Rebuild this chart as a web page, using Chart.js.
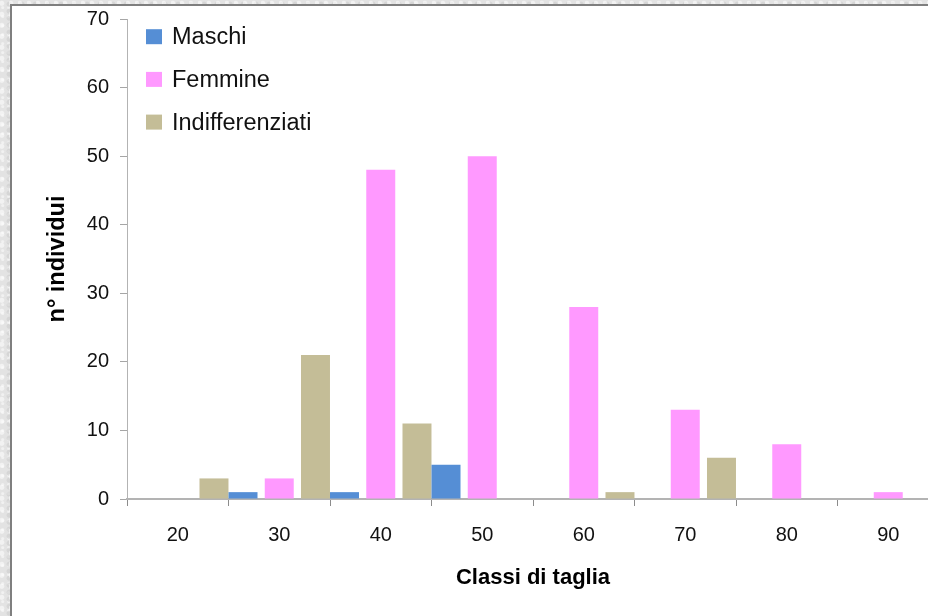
<!DOCTYPE html>
<html>
<head>
<meta charset="utf-8">
<script src="https://cdn.jsdelivr.net/npm/chart.js@4.4.1/dist/chart.umd.min.js"></script>
<style>
  html, body { margin: 0; padding: 0; width: 928px; height: 616px; overflow: hidden; }
  body {
    background-color: #e3e3e3;
    background-image:
      radial-gradient(circle at 20% 30%, rgba(255,255,255,0.55) 0 2px, transparent 3px),
      radial-gradient(circle at 70% 60%, rgba(200,200,200,0.5) 0 2px, transparent 3px),
      radial-gradient(circle at 45% 85%, rgba(255,255,255,0.5) 0 1px, transparent 2px);
    background-size: 9px 11px, 13px 7px, 6px 9px;
  }
  #panel { position: absolute; left: 10px; top: 4px; width: 1000px; height: 700px;
           border: 2px solid #7f7f7f; background: #ffffff; }
  #wrap { position: absolute; left: 12px; top: 6px; width: 930px; height: 610px; }
</style>
</head>
<body>
<div id="panel"></div>
<div id="wrap"><canvas id="c"></canvas></div>
<script>
const categories = ['20', '30', '40', '50', '60', '70', '80', '90'];
const maschi = [0, 1, 1, 5, 0, 0, 0, 0];
const femmine = [0, 3, 48, 50, 28, 13, 8, 1];
const indifferenziati = [3, 21, 11, 0, 1, 6, 0, 0];
const seriesNames = ['Maschi', 'Femmine', 'Indifferenziati'];
const yTitle = 'n° individui';
const xTitle = 'Classi di taglia';

const colors = ['#558ed5', '#ff99ff', '#c4bd97'];

const insideLegend = {
  id: 'insideLegend',
  afterDraw(chart) {
    const ctx = chart.ctx;
    const area = chart.chartArea;
    ctx.save();
    ctx.font = '23.5px "Liberation Sans", Arial, sans-serif';
    ctx.textBaseline = 'middle';
    ctx.textAlign = 'left';
    chart.data.datasets.forEach((ds, i) => {
      const cy = area.top + 17.7 + i * 42.7;
      const bx = area.left + 19;
      ctx.fillStyle = ds.backgroundColor;
      ctx.fillRect(bx, cy - 7.5, 16, 15);
      ctx.fillStyle = '#111111';
      ctx.fillText(ds.label, bx + 26, cy + 1);
    });
    ctx.restore();
  }
};

new Chart(document.getElementById('c'), {
  type: 'bar',
  data: {
    labels: categories,
    datasets: [
      { label: seriesNames[0], data: maschi, backgroundColor: colors[0] },
      { label: seriesNames[1], data: femmine, backgroundColor: colors[1] },
      { label: seriesNames[2], data: indifferenziati, backgroundColor: colors[2] }
    ]
  },
  options: {
    responsive: true,
    maintainAspectRatio: false,
    animation: false,
    devicePixelRatio: 1,
    layout: { padding: { top: 13, right: 3, bottom: 0, left: 0 } },
    datasets: { bar: { categoryPercentage: 1.071, barPercentage: 0.8, borderWidth: 0 } },
    plugins: {
      legend: { display: false },
      tooltip: { enabled: false }
    },
    scales: {
      x: {
        offset: true,
        grid: { display: true, drawOnChartArea: false, drawTicks: true, tickLength: 7, color: '#8c8c8c', offset: true },
        border: { display: true, color: '#b3b3b3', width: 2 },
        ticks: { color: '#111111', padding: 17, font: { family: '"Liberation Sans", Arial, sans-serif', size: 20 } },
        title: { display: true, text: xTitle, color: '#000000', padding: { top: 0, bottom: 25 },
                 font: { family: '"Liberation Sans", Arial, sans-serif', size: 22, weight: 'bold' } },
        afterFit(scale) { scale.height = 117; }
      },
      y: {
        min: 0, max: 70,
        grid: { display: true, drawOnChartArea: false, drawTicks: true, tickLength: 7, color: '#a6a6a6' },
        border: { display: true, color: '#b3b3b3', width: 1 },
        ticks: { stepSize: 10, color: '#111111', padding: 11, font: { family: '"Liberation Sans", Arial, sans-serif', size: 20 } },
        title: { display: true, text: yTitle, color: '#000000', padding: { top: 31, bottom: 0 },
                 font: { family: '"Liberation Sans", Arial, sans-serif', size: 23.5, weight: 'bold' } },
        afterFit(scale) { scale.width = 115; scale.paddingTop = 0; scale.paddingBottom = 0; }
      }
    }
  },
  plugins: [insideLegend]
});
</script>
</body>
</html>
